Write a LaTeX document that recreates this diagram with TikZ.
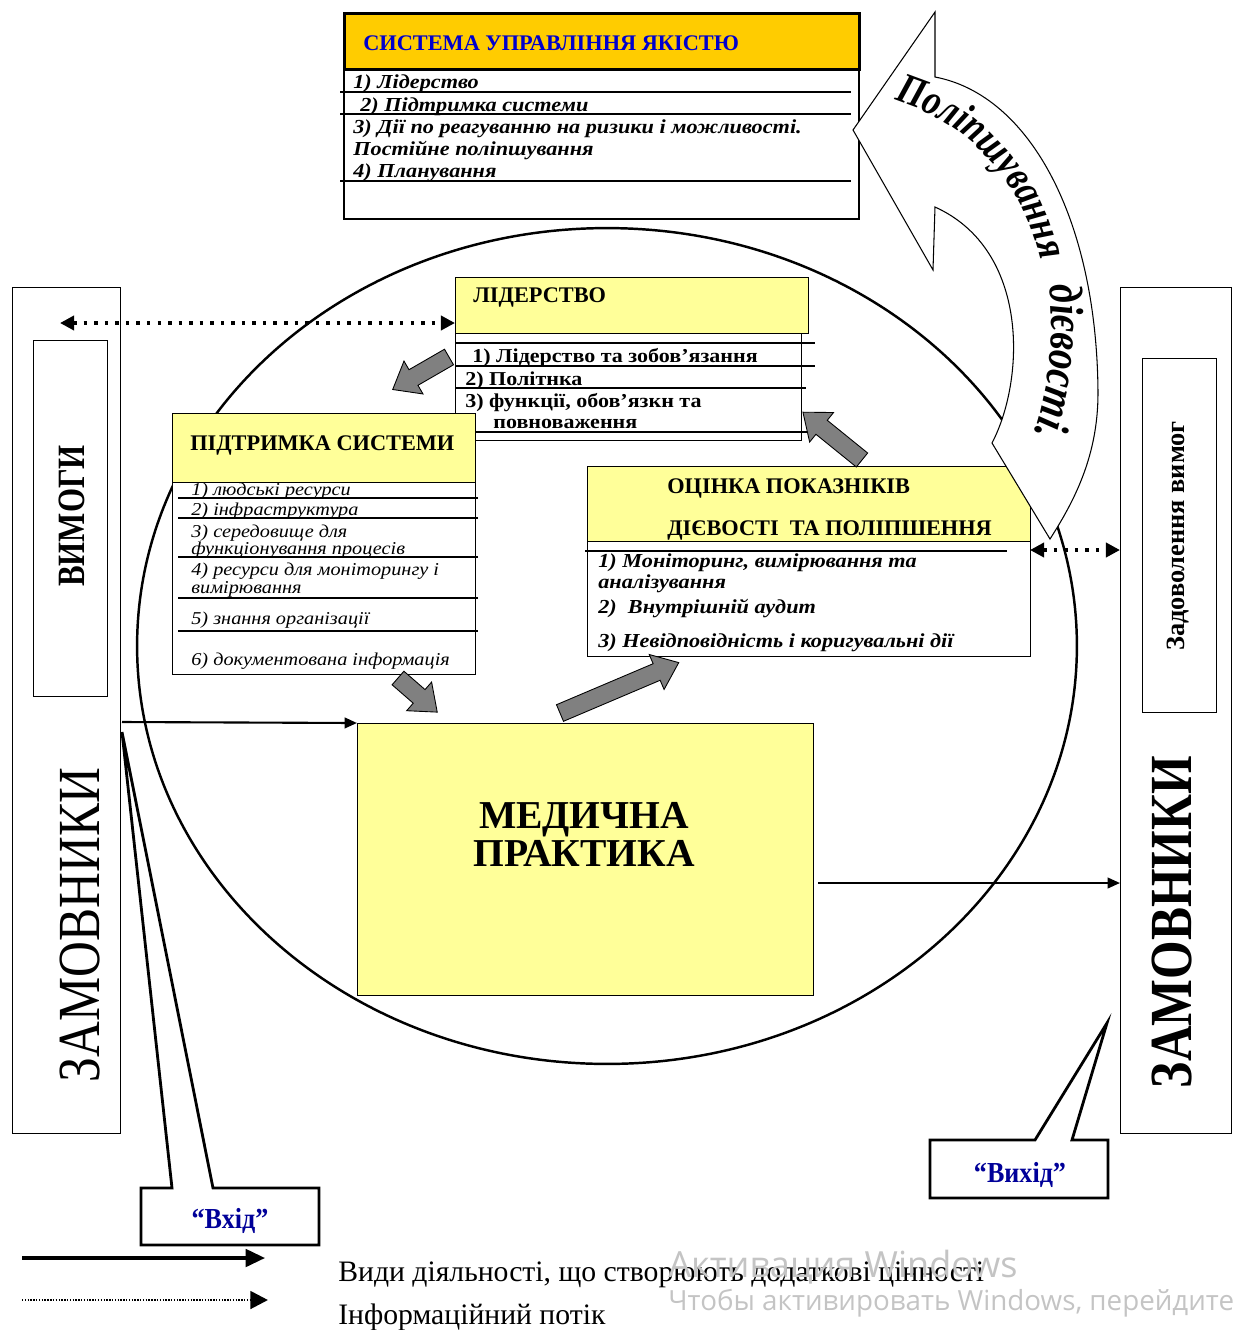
\documentclass[tikz,border=0pt]{standalone}
\usepackage{fontspec}
\setmainfont{Liberation Serif}
\newfontfamily\widefont{Liberation Serif}[FakeStretch=1.12]
\newfontfamily\arcfont{Liberation Serif}[FakeStretch=0.82]
\newfontfamily\winfont{Open Sans}
\usetikzlibrary{arrows.meta,decorations.text,positioning}

\definecolor{boxyellow}{HTML}{FFFF99}
\definecolor{qmsorange}{HTML}{FFCC00}
\definecolor{qmsblue}{HTML}{0000CC}
\definecolor{callblue}{HTML}{000099}
\definecolor{blockgray}{HTML}{808080}
\definecolor{wingray}{HTML}{C4C4C4}

\tikzset{
  box/.style={draw, line width=0.8pt, inner sep=0pt, anchor=north west, fill=white},
  hdrbox/.style={box, fill=boxyellow},
  rowline/.style={line width=0.6pt},
  txt/.style={anchor=base west, inner sep=0pt},
  itembi/.style={txt, font=\widefont\fontsize{11.3}{13}\selectfont\bfseries\itshape},
  itemb/.style={txt, font=\widefont\fontsize{11.2}{13}\selectfont\bfseries},
  itemi/.style={txt, font=\widefont\fontsize{10.3}{12}\selectfont\itshape},
  hdrtxt/.style={txt, font=\fontsize{12.7}{14}\selectfont\bfseries},
  valueflow/.style={line width=1.2pt, -{Triangle[length=7pt,width=6pt]}},
  infoflow/.style={line width=2pt, dash pattern=on 2pt off 4pt, {Triangle[length=8pt,width=8pt]}-{Triangle[length=8pt,width=8pt]}},
  calloutline/.style={draw, line width=1.6pt, fill=white},
  calltxt/.style={font=\fontsize{16.5}{18}\selectfont\bfseries, text=callblue},
  blockarrow/.style={draw, line width=0.5pt, fill=blockgray},
}

\newcommand{\blockarr}[3]{%
  \draw[blockarrow, shift={(#1)}, rotate=#2] (0,9) -- ({#3-24},9) -- ({#3-24},19) -- (#3,0) -- ({#3-24},-19) -- ({#3-24},-9) -- (0,-9) -- cycle;}

\begin{document}
\begin{tikzpicture}[x=0.02cm,y=-0.02cm]
\useasboundingbox (0,0) rectangle (1240,1330);

\draw[line width=1.4pt] (607,646) ellipse [x radius=9.4cm, y radius=8.36cm];

% customers
\node[box, minimum width=2.16cm, minimum height=16.92cm] (lcust) at (12,287) {};
\node[box, minimum width=1.48cm, minimum height=7.12cm] (req) at (33,340) {};
\node[rotate=90, font=\fontsize{22}{24}\selectfont\bfseries] (reqtxt) at (72,516) {\scalebox{0.8}[1]{ВИМОГИ}};
\node[rotate=90, font=\fontsize{34}{36}\selectfont] (lcusttxt) at (80,925) {\scalebox{0.83}[1]{ЗАМОВНИКИ}};

\node[box, minimum width=2.22cm, minimum height=16.92cm] (rcust) at (1120,287) {};
\node[box, minimum width=1.48cm, minimum height=7.08cm] (sat) at (1142,358) {};
\node[rotate=90, font=\fontsize{15}{17}\selectfont\bfseries] (sattxt) at (1178,536) {Задоволення вимог};
\node[rotate=90, font=\fontsize{34}{36}\selectfont\bfseries] (rcusttxt) at (1172,922) {\scalebox{0.83}[1]{ЗАМОВНИКИ}};

% quality management system
\node[box, line width=1.2pt, minimum width=10.3cm, minimum height=4.12cm] (qms) at (343,12) {};
\node[box, line width=1.6pt, fill=qmsorange, minimum width=10.3cm, minimum height=1.12cm] (qmshead) at (343,12) {};
\node[hdrtxt, text=qmsblue] (qmstitle) at (363,50) {СИСТЕМА УПРАВЛІННЯ ЯКІСТЮ};
\foreach \y in {92,114,181} \draw[rowline] (340,\y) -- (851,\y);
\node[itembi] (q1) at (353,88) {1) Лідерство};
\node[itembi] (q2) at (360,111) {2) Підтримка системи};
\node[itembi] (q3) at (353,133) {3) Дії по реагуванню на ризики і можливості.};
\node[itembi] (q3b) at (353,155) {Постійне поліпшування};
\node[itembi] (q4) at (353,177) {4) Планування};

% leadership
\node[box, minimum width=6.92cm, minimum height=2.14cm] (lidbody) at (455,333) {};
\node[hdrbox, minimum width=7.06cm, minimum height=1.12cm] (lidhead) at (455,277) {};
\node[hdrtxt] (lidtitle) at (473,302) {ЛІДЕРСТВО};
\foreach \y/\e in {343/815,366/815,388/806,432/815} \draw[rowline] (455,\y) -- (\e,\y);
\node[itemb] (l1) at (472,362) {1) Лідерство та зобов’язання};
\node[itemb] (l2) at (465,385) {2) Політнка};
\node[itemb] (l3) at (465,407) {3) функції, обов’язкн та};
\node[itemb] (l3b) at (493,428) {повноваження};

% support
\node[box, minimum width=6.06cm, minimum height=5.22cm] (supbody) at (172,413) {};
\node[hdrbox, minimum width=6.06cm, minimum height=1.38cm] (suphead) at (172,413) {};
\node[hdrtxt] (suptitle) at (190,450) {ПІДТРИМКА СИСТЕМИ};
\foreach \y in {498,518,557,598,631} \draw[rowline] (178,\y) -- (478,\y);
\node[itemi] (s1) at (191,495) {1) людські ресурси};
\node[itemi] (s2) at (191,515) {2) інфраструктура};
\node[itemi] (s3) at (191,537) {3) середовище для};
\node[itemi] (s3b) at (191,554) {функціонування процесів};
\node[itemi] (s4) at (191,575) {4) ресурси для моніторингу і};
\node[itemi] (s4b) at (191,593) {вимірювання};
\node[itemi] (s5) at (191,624) {5) знання організації};
\node[itemi] (s6) at (191,665) {6) документована інформація};

% evaluation
\node[box, minimum width=8.86cm, minimum height=3.8cm] (evalbody) at (587,466) {};
\node[hdrbox, minimum width=8.86cm, minimum height=1.5cm] (evalhead) at (587,466) {};
\node[hdrtxt] (evalt1) at (667,493) {ОЦІНКА ПОКАЗНІКІВ};
\node[hdrtxt] (evalt2) at (667,535) {ДІЄВОСТІ\ \ ТА ПОЛІПШЕННЯ};
\draw[rowline] (585,551) -- (1007,551);
\node[itembi] (e1) at (598,567) {1) Моніторинг, вимірювання та};
\node[itembi] (e1b) at (598,588) {аналізування};
\node[itembi] (e2) at (598,613) {2)\ \ Внутрішній аудит};
\node[itembi] (e3) at (598,647) {3) Невідповідність і коригувальні дії};

% medical practice
\node[hdrbox, minimum width=9.12cm, minimum height=5.44cm] (medp) at (357,723) {};
\node[align=center, font=\fontsize{22.5}{21.6}\selectfont\bfseries] (medtxt) at (584,834) {МЕДИЧНА\\ПРАКТИКА};

% gray arrows
\blockarr{449,357}{210}{65}
\blockarr{398,678}{-41}{52}
\blockarr{560,713}{23}{129}
\blockarr{862,460}{141}{76}

% improvement arrow
\draw[line width=0.6pt, fill=white] (935,12) -- (935,77) .. controls (1030,95) and (1097,220) .. (1098,393) .. controls (1098,455) and (1075,500) .. (1050,539) -- (992,443) .. controls (1025,380) and (1030,250) .. (935,207) -- (933,270) -- (853,130) -- cycle;
\path[decorate, decoration={text along path, text align=left, text={|\arcfont\fontsize{24.5}{28}\selectfont\bfseries\itshape|Поліпшування}}] (894,100) .. controls (985,128) and (1036,200) .. (1048,300);
\path[decorate, decoration={text along path, text align=left, text={|\arcfont\fontsize{27}{30}\selectfont\bfseries\itshape|дієвості.}}] (1049,286) .. controls (1056,340) and (1049,400) .. (1025,460);

% flows
\coordinate (infoL) at (60,323);
\draw[infoflow] (infoL) -- (infoL -| lidhead.west);
\coordinate (infoR) at (1030,550);
\draw[infoflow] (infoR) -- (infoR -| rcust.west);
\coordinate (inflow) at (122,722);
\draw[valueflow] (inflow) -- (medp.north west);
\coordinate (outflow) at (818,883);
\draw[valueflow] (outflow) -- (outflow -| rcust.west);

% callouts
\draw[calloutline] (141,1188) -- (172,1188) -- (122,732) -- (213,1188) -- (319,1188) -- (319,1245) -- (141,1245) -- cycle;
\node[calltxt] (vkhid) at (230,1221) {\scalebox{0.9}[1]{“Вхід”}};
\draw[calloutline] (930,1140) -- (1035,1140) -- (1107,1023) -- (1072,1140) -- (1108,1140) -- (1108,1198) -- (930,1198) -- cycle;
\node[calltxt] (vykhid) at (1020,1175) {\scalebox{0.9}[1]{“Вихід”}};

% legend
\coordinate (lgA) at (22,1258);
\coordinate (lgB) at (265,1258);
\draw[line width=1.8pt, -{Triangle[length=11pt,width=10pt]}] (lgA) -- (lgB);
\coordinate (lgC) at (22,1300);
\coordinate (lgD) at (268,1300);
\draw[line width=1.6pt, dash pattern=on 0.8pt off 0.8pt, -{Triangle[length=10pt,width=10pt]}] (lgC) -- (lgD);
\node[txt, font=\fontsize{16.9}{18}\selectfont] (lgtxt1) at (338,1281) {Види діяльності, що створюють додаткові цінності};
\node[txt, font=\fontsize{16.9}{18}\selectfont] (lgtxt2) at (338,1324) {Інформаційний потік};

\node[txt, font=\winfont\fontsize{20.5}{22}\selectfont, text=wingray] (win1) at (668,1277) {Активация Windows};
\node[txt, font=\winfont\fontsize{15.8}{17}\selectfont, text=wingray] (win2) at (668,1310) {Чтобы активировать Windows, перейдите};
\end{tikzpicture}
\end{document}
